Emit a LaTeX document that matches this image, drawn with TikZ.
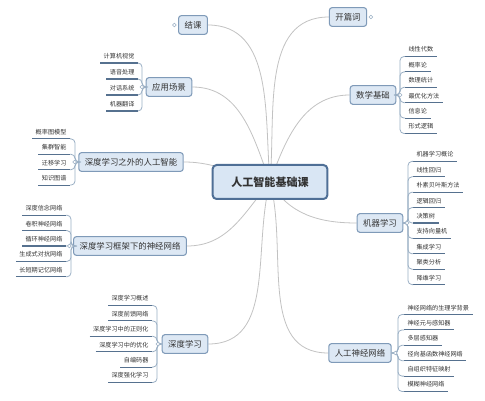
\documentclass[tikz,border=0pt]{standalone}
\usepackage{fontspec}
\setmainfont{Noto Sans CJK SC}
\usetikzlibrary{backgrounds}
\definecolor{boxfill}{HTML}{DDE8F4}
\definecolor{boxline}{HTML}{7F9AB8}
\definecolor{rootfill}{HTML}{D9E6F4}
\definecolor{rootline}{HTML}{4F6F96}
\definecolor{linkgray}{HTML}{C2C2C2}
\definecolor{twiggray}{HTML}{9AAFC4}
\definecolor{ulinecol}{HTML}{56718F}
\definecolor{ink}{HTML}{333333}
\begin{document}
\begin{tikzpicture}[x=0.75pt,y=0.75pt,
  topic/.style={draw=boxline,fill=boxfill,rounded corners=2pt,line width=0.8pt,text=ink,
    font=\fontsize{6.3}{7}\selectfont,inner xsep=4.5pt,inner ysep=0pt,minimum height=14pt},
  root/.style={draw=rootline,fill=rootfill,rounded corners=3pt,line width=1.5pt,text=ink,
    font=\fontsize{8.3}{10}\selectfont\bfseries,inner xsep=14pt,inner ysep=0pt,minimum height=25.5pt},
  leaf/.style={font=\fontsize{4.6}{5}\selectfont,text=ink,inner xsep=2.5pt,inner ysep=2.8pt},
  link/.style={draw=linkgray,line width=0.6pt},
  twig/.style={draw=twiggray,line width=0.6pt,rounded corners=3pt},
  uline/.style={draw=ulinecol,line width=0.8pt},
  knob/.style={draw=twiggray,fill=white,line width=0.4pt}]
\useasboundingbox (0,0) rectangle (485,400);
\node[root] (c) at (270,218) {人工智能基础课};
\node[topic] (jk) at (193,375) {结课};
\node[topic] (kp) at (348,383) {开篇词};
\node[topic] (yy) at (169,313) {应用场景};
\node[topic] (sx) at (373,305) {数学基础};
\node[topic] (jq) at (380,177) {机器学习};
\node[topic] (rg) at (360,47) {人工神经网络};
\node[topic] (sd) at (185,56) {深度学习};
\node[topic] (kj) at (130,154) {深度学习框架下的神经网络};
\node[topic] (zw) at (131,238) {深度学习之外的人工智能};
\begin{scope}[on background layer]
\draw[link] (c.center) to[out=95,in=0] (jk.east);
\draw[link] (c.center) to[out=85,in=180] (kp.west);
\draw[link] (c.center) to[out=110,in=0] (yy.east);
\draw[link] (c.center) to[out=70,in=180] (sx.west);
\draw[link] (c.center) to[out=-60,in=180] (jq.west);
\draw[link] (c.center) to[out=-75,in=180] (rg.west);
\draw[link] (c.center) to[out=-105,in=0] (sd.east);
\draw[link] (c.center) to[out=-130,in=0] (kj.east);
\draw[link] (c.center) to[out=170,in=0] (zw.east);
\end{scope}
\foreach \t [count=\i] in {线性代数,概率论,数理统计,最优化方法,信息论,形式逻辑}{
  \node[leaf,anchor=south west] (sx\i) at (405,{305+(3.5-\i)*15.4}) {\t};
  \draw[uline] (sx\i.south west) -- (sx\i.south east);
  \draw[twig] (sx.east) -- (400,305) |- (sx\i.south west);
}
\foreach \t [count=\i] in {机器学习概论,线性回归,朴素贝叶斯方法,逻辑回归,决策树,支持向量机,集成学习,聚类分析,降维学习}{
  \node[leaf,anchor=south west] (jq\i) at (413,{177+(5-\i)*15.4}) {\t};
  \draw[uline] (jq\i.south west) -- (jq\i.south east);
  \draw[twig] (jq.east) -- (408,177) |- (jq\i.south west);
}
\foreach \t [count=\i] in {神经网络的生理学背景,神经元与感知器,多层感知器,径向基函数神经网络,自组织特征映射,模糊神经网络}{
  \node[leaf,anchor=south west] (rg\i) at (404,{47+(3.5-\i)*15.4}) {\t};
  \draw[uline] (rg\i.south west) -- (rg\i.south east);
  \draw[twig] (rg.east) -- (398,47) |- (rg\i.south west);
}
\foreach \t [count=\i] in {计算机视觉,语音处理,对话系统,机器翻译}{
  \node[leaf,anchor=south east] (yy\i) at (138,{313+(2.5-\i)*16}) {\t};
  \draw[uline] (yy\i.south west) -- (yy\i.south east);
  \draw[twig] (yy.west) -- (142,313) |- (yy\i.south east);
}
\foreach \t [count=\i] in {概率图模型,集群智能,迁移学习,知识图谱}{
  \node[leaf,anchor=south east] (zw\i) at (70,{238+(2.5-\i)*15.4}) {\t};
  \draw[uline] (zw\i.south west) -- (zw\i.south east);
  \draw[twig] (zw.west) -- (75,238) |- (zw\i.south east);
}
\foreach \t [count=\i] in {深度信念网络,卷积神经网络,循环神经网络,生成式对抗网络,长短期记忆网络}{
  \node[leaf,anchor=south east] (kj\i) at (66,{154+(3-\i)*15.4}) {\t};
  \draw[uline] (kj\i.south west) -- (kj\i.south east);
  \draw[twig] (kj.west) -- (71,154) |- (kj\i.south east);
}
\foreach \t [count=\i] in {深度学习概述,深度前馈网络,深度学习中的正则化,深度学习中的优化,自编码器,深度强化学习}{
  \node[leaf,anchor=south east] (sd\i) at (152,{56+(3.5-\i)*15.4}) {\t};
  \draw[uline] (sd\i.south west) -- (sd\i.south east);
  \draw[twig] (sd.west) -- (157,56) |- (sd\i.south east);
}
\foreach \n in {sx,jq,rg,kp}
  \draw[knob] ([xshift=2.8pt]\n.east) circle (1.4pt);
\foreach \n in {yy,zw,kj,sd,jk}
  \draw[knob] ([xshift=-2.8pt]\n.west) circle (1.4pt);
\end{tikzpicture}
\end{document}
